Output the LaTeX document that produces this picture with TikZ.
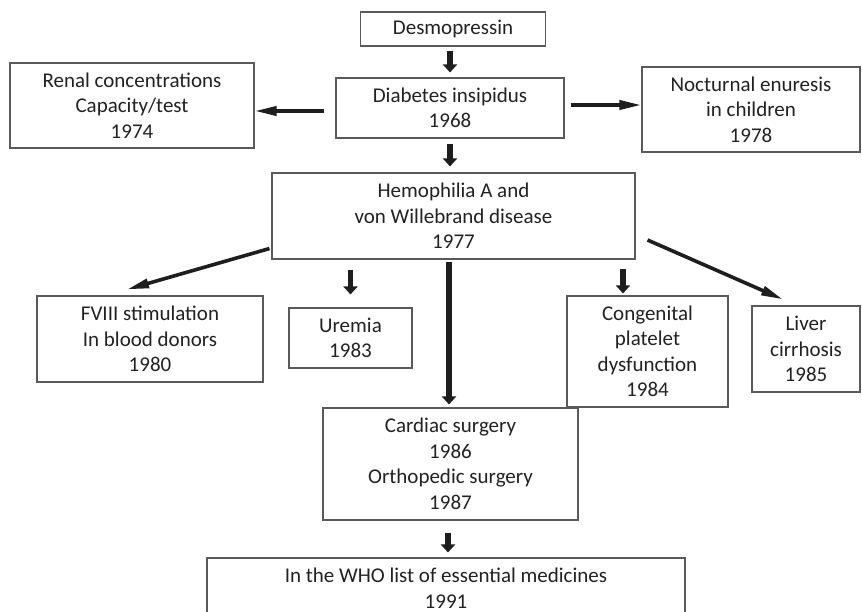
\documentclass[tikz,border=0pt]{standalone}
\usepackage{fontspec}
\setmainfont{Carlito}
\usetikzlibrary{arrows.meta,calc}
\definecolor{txt}{HTML}{222222}
\definecolor{edgec}{HTML}{5A5A5A}
\definecolor{arr}{HTML}{1E1E1E}
\begin{document}
\begin{tikzpicture}[x=1pt,y=-1pt,
  box/.style={draw=edgec,line width=1.1pt,rectangle,align=center,text=txt,
    font=\fontsize{21}{25.5}\selectfont,inner sep=0pt},
  varrow/.style={draw=arr,line width=5.5pt,-{Triangle[width=14pt,length=8pt]}},
  sarrow/.style={draw=arr,line width=3.6pt,-{Triangle[width=9pt,length=22pt]}}]
\useasboundingbox (0,0) rectangle (862,612);
\fill[white] (0,0) rectangle (862,612);

\node[box,minimum width=185pt,minimum height=34pt] (desmo) at (453,29) {Desmopressin};
\node[box,minimum width=228pt,minimum height=60pt] (diab) at (450,108) {Diabetes insipidus\\1968};
\node[box,minimum width=244pt,minimum height=85pt] (renal) at (132,105.5) {Renal concentrations\\Capacity/test\\1974};
\node[box,minimum width=218pt,minimum height=85pt] (noct) at (751,109.5) {Nocturnal enuresis\\in children\\1978};
\node[box,minimum width=363pt,minimum height=86pt] (hemo) at (453.5,216) {Hemophilia A and\\von Willebrand disease\\1977};
\node[box,minimum width=226pt,minimum height=86pt] (fviii) at (150,339) {FVIII stimulation\\In blood donors\\1980};
\node[box,minimum width=123pt,minimum height=60pt] (uremia) at (350.5,338) {Uremia\\1983};
\node[box,minimum width=161pt,minimum height=111pt] (congen) at (647.5,351.5) {Congenital\\platelet\\dysfunction\\1984};
\node[box,minimum width=108pt,minimum height=86pt] (liver) at (806,349) {Liver\\cirrhosis\\1985};
\node[box,minimum width=255pt,minimum height=112pt] (cardiac) at (450.5,464) {Cardiac surgery\\1986\\Orthopedic surgery\\1987};
\node[box,minimum width=478pt,minimum height=60pt] (who) at (446,588) {In the WHO list of essential medicines\\1991};

% arrows
\draw[varrow] ($(diab.north |- desmo.south)+(0,4)$) -- ($(diab.north)+(0,-5)$);
\draw[varrow] ($(diab.south)+(0,5)$) -- ($(hemo.north -| diab.south)+(0,-6)$);
\draw[sarrow] ($(diab.west)+(-11,3)$) -- ($(renal.east)+(0,5.5)$);
\draw[sarrow] ($(diab.east)+(6,-3)$) -- ($(noct.west)+(0,-4.5)$);
\draw[sarrow] ($(hemo.south west)+(-2,-11)$) -- ($(fviii.north)+(-23,-6)$);
\draw[sarrow] ($(hemo.east)+(12,24)$) -- ($(liver.north)+(-23,-6)$);
\draw[varrow] ($(uremia.north)+(0,-37)$) -- ($(uremia.north)+(0,-13)$);
\draw[varrow] ($(congen.north)+(-24.5,-26)$) -- ($(congen.north)+(-24.5,-2)$);
\draw[varrow] ($(hemo.south -| cardiac.north)+(-1.5,2)$) -- ($(cardiac.north)+(-1.5,-3)$);
\draw[varrow] ($(cardiac.south)+(-2.5,12)$) -- ($(who.north -| cardiac.south)+(-2.5,-5)$);
\end{tikzpicture}
\end{document}
